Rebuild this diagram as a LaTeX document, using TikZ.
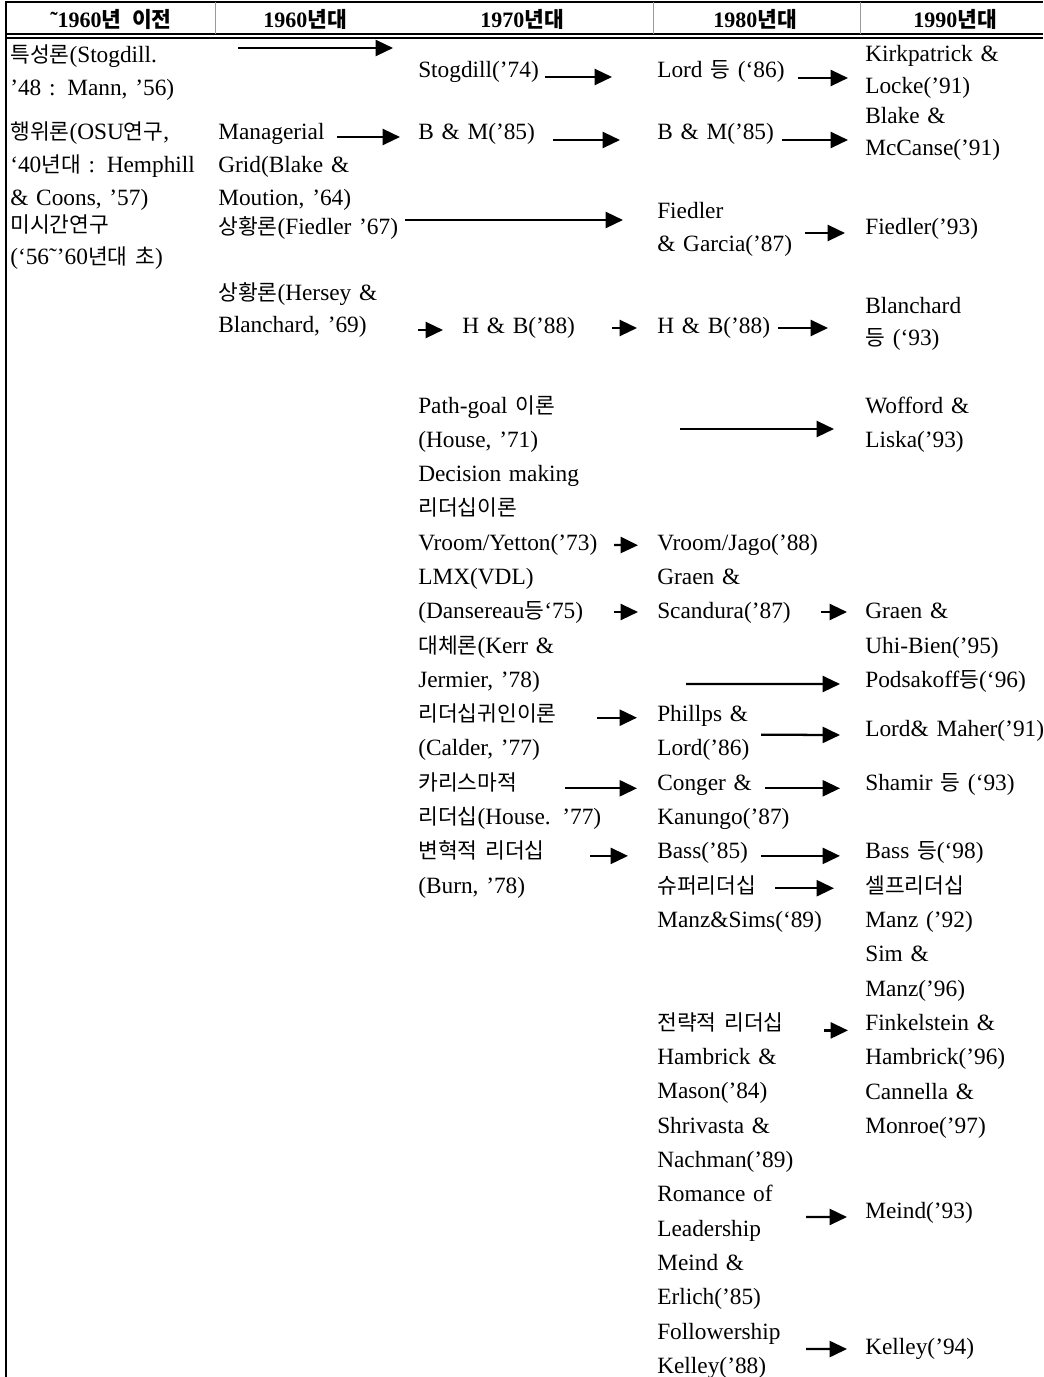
\documentclass[tikz,border=0pt]{standalone}
\usepackage{fontspec}
\setmainfont{Liberation Serif}
\newfontfamily\krfont[Scale=0.92]{Noto Sans CJK KR}
\newcommand{\hg}[1]{{\krfont #1}}
\newcommand{\hgbig}[1]{{\krfont\fontsize{17.5pt}{20pt}\selectfont #1}}
\usepackage{tikz}
\usetikzlibrary{arrows.meta, calc}

\begin{document}
\begin{tikzpicture}[
    x=0.75pt, y=-0.75pt,
    cell/.style={anchor=base west, align=left, inner sep=0pt, text width=150pt, font=\fontsize{17.5pt}{25.7pt}\selectfont},
    tight/.style={font=\fontsize{17.5pt}{24.5pt}\selectfont},
    tighter/.style={font=\fontsize{17.5pt}{23.3pt}\selectfont},
    head/.style={anchor=base, inner sep=0pt, font=\fontsize{16.5pt}{20pt}\selectfont\bfseries},
    rule/.style={line width=1.5pt},
    thinrule/.style={line width=0.8pt},
    sep/.style={line width=0.5pt, black!40},
    arrow/.style={-{Triangle[length=13pt, width=12pt]}, line width=1.7pt}
]
\useasboundingbox (0,0) rectangle (1043,1377);

% Table frame
\draw[rule] (1043,2) -- (6,2) -- (6,1377);
\draw[thinrule] (6,34) -- (1043,34);
\draw[thinrule] (6,38) -- (1043,38);
\draw[sep] (215,2) -- (215,34);
\draw[sep] (653,2) -- (653,34);
\draw[sep] (860,2) -- (860,34);

% Header
\node[head] (h0) at (111,28) {˜1960\hgbig{년\hspace{8pt}이전}};
\node[head] (h1) at (305,28) {1960\hgbig{년대}};
\node[head] (h2) at (522,28) {1970\hgbig{년대}};
\node[head] (h3) at (755,28) {1980\hgbig{년대}};
\node[head] (h4) at (955,28) {1990\hgbig{년대}};

% Before 1960
\node[cell, tight] (c1a) at (10,63) {\hg{특성론}(Stogdill.\\’48 : Mann, ’56)};
\node[cell, tight] (c1b) at (10,140) {\hg{행위론}(OSU\hg{연구},\\‘40\hg{년대} : Hemphill\\\& Coons, ’57)};
\node[cell, tight] (c1c) at (10,232) {\hg{미시간연구}\\(‘56˜’60\hg{년대 초})};

% 1960s
\node[cell, tight] (c2a) at (218,140) {Managerial\\Grid(Blake \&\\Moution, ’64)};
\node[cell] (c2b) at (218,234) {\hg{상황론}(Fiedler ’67)};
\node[cell, tight] (c2c) at (218,300) {\hg{상황론}(Hersey \&\\Blanchard, ’69)};

% 1970s
\node[cell] (c3a) at (418,78) {Stogdill(’74)};
\node[cell] (c3b) at (418,140) {B \& M(’85)};
\node[cell] (c3c) at (462,333) {H \& B(’88)};
\node[cell] (c3d) at (418,413) {Path-goal \hg{이론}\\(House, ’71)\\Decision making\\\hg{리더십이론}\\Vroom/Yetton(’73)};
\node[cell] (c3e) at (418,584.5) {LMX(VDL)\\(Dansereau\hg{등}‘75)};
\node[cell] (c3f) at (418,653.1) {\hg{대체론}(Kerr \&\\Jermier, ’78)};
\node[cell] (c3g) at (418,721.7) {\hg{리더십귀인이론}\\(Calder, ’77)};
\node[cell] (c3h) at (418,790.3) {\hg{카리스마적}\\\hg{리더십}(House. ’77)};
\node[cell] (c3i) at (418,858.9) {\hg{변혁적 리더십}\\(Burn, ’78)};

% 1980s
\node[cell] (c4a) at (657,78) {Lord \hg{등} (‘86)};
\node[cell] (c4b) at (657,140) {B \& M(’85)};
\node[cell, tight] (c4c) at (657,219) {Fiedler\\\& Garcia(’87)};
\node[cell] (c4d) at (657,333) {H \& B(’88)};
\node[cell] (c4e) at (657,550.2) {Vroom/Jago(’88)};
\node[cell] (c4f) at (657,584.5) {Graen \&\\Scandura(’87)};
\node[cell] (c4g) at (657,721.7) {Phillps \&\\Lord(’86)};
\node[cell] (c4h) at (657,790.3) {Conger \&\\Kanungo(’87)};
\node[cell] (c4i) at (657,858.9) {Bass(’85)};
\node[cell] (c4j) at (657,893.2) {\hg{슈퍼리더십}\\Manz\&Sims(‘89)};
\node[cell] (c4k) at (657,1030.4) {\hg{전략적 리더십}\\Hambrick \&\\Mason(’84)\\Shrivasta \&\\Nachman(’89)};
\node[cell] (c4l) at (657,1201.9) {Romance of\\Leadership};
\node[cell] (c4m) at (657,1270.5) {Meind \&\\Erlich(’85)};
\node[cell] (c4n) at (657,1339.1) {Followership\\Kelley(’88)};

% 1990s
\node[cell, tighter] (c5a) at (865,62) {Kirkpatrick \&\\Locke(’91)};
\node[cell, tighter] (c5b) at (865,124) {Blake \&\\McCanse(’91)};
\node[cell] (c5c) at (865,234) {Fiedler(’93)};
\node[cell, tight] (c5d) at (865,313) {Blanchard\\\hg{등} (‘93)};
\node[cell] (c5e) at (865,413) {Wofford \&\\Liska(’93)};
\node[cell] (c5f) at (865,618.8) {Graen \&\\Uhi-Bien(’95)};
\node[cell] (c5g) at (865,687.4) {Podsakoff\hg{등}(‘96)};
\node[cell] (c5h) at (865,736) {Lord\& Maher(’91)};
\node[cell] (c5i) at (865,790.3) {Shamir \hg{등} (‘93)};
\node[cell] (c5j) at (865,858.9) {Bass \hg{등}(‘98)};
\node[cell] (c5k) at (865,893.2) {\hg{셀프리더십}\\Manz (’92)\\Sim \&\\Manz(’96)};
\node[cell] (c5l) at (865,1030.4) {Finkelstein \&\\Hambrick(’96)};
\node[cell] (c5m) at (865,1099) {Cannella \&\\Monroe(’97)};
\node[cell] (c5n) at (865,1218) {Meind(’93)};
\node[cell] (c5o) at (865,1354) {Kelley(’94)};

% Arrows
\draw[arrow] ($(c1a.base west)+(228,-15)$) -- ($(c3a.base west)+(-25,-30)$);
\draw[arrow] ($(c3a.base west)+(127,-1)$) -- ($(c4a.base west)+(-45,-1)$);
\draw[arrow] ($(c4a.base west)+(141,0)$) -- ($(c5a.base west)+(-17,16)$);
\draw[arrow] ($(c2a.base west)+(119,-3)$) -- ($(c3b.base west)+(-18,-3)$);
\draw[arrow] ($(c3b.base west)+(135,0)$) -- ($(c4b.base west)+(-37,0)$);
\draw[arrow] ($(c4b.base west)+(125,0)$) -- ($(c5b.base west)+(-17,16)$);
\draw[arrow] ($(c2b.base west)+(187,-14)$) -- ($(c4c.base west)+(-34,1)$);
\draw[arrow] ($(c4c.base west)+(148,14)$) -- ($(c5c.base west)+(-20,-1)$);
\draw[arrow] ($(c2c.base west)+(200,30)$) -- ($(c3c.base west)+(-19,-3)$);
\draw[arrow] ($(c3c.base west)+(150,-5)$) -- ($(c4d.base west)+(-20,-5)$);
\draw[arrow] ($(c4d.base west)+(121,-5)$) -- ($(c5d.base west)+(-37,15)$);
\draw[arrow] ($(c3d.base west)+(262,16)$) -- ($(c5e.base west)+(-31,16)$);
\draw[arrow] ($(c3d.base west)+(196,132)$) -- ($(c4e.base west)+(-19,-5)$);
\draw[arrow] ($(c3e.base west)+(196,27.5)$) -- ($(c4f.base west)+(-19,27.5)$);
\draw[arrow] ($(c4f.base west)+(164,27.5)$) -- ($(c5f.base west)+(-18,-6.8)$);
\draw[arrow] ($(c3f.base west)+(268,31)$) -- ($(c5g.base west)+(-25,-3.4)$);
\draw[arrow] ($(c3g.base west)+(179,-4)$) -- ($(c4g.base west)+(-20,-4)$);
\draw[arrow] ($(c4g.base west)+(104,13)$) -- ($(c5h.base west)+(-25,-1)$);
\draw[arrow] ($(c3h.base west)+(147,-2)$) -- ($(c4h.base west)+(-20,-2)$);
\draw[arrow] ($(c4h.base west)+(108,-2)$) -- ($(c5i.base west)+(-25,-2)$);
\draw[arrow] ($(c3i.base west)+(172,-3)$) -- ($(c4i.base west)+(-29,-3)$);
\draw[arrow] ($(c4i.base west)+(104,-3)$) -- ($(c5j.base west)+(-25,-3)$);
\draw[arrow] ($(c4j.base west)+(118,-5)$) -- ($(c5k.base west)+(-31,-5)$);
\draw[arrow] ($(c4k.base west)+(167,0)$) -- ($(c5l.base west)+(-17,0)$);
\draw[arrow] ($(c4l.base west)+(149,15)$) -- ($(c5n.base west)+(-18,-1)$);
\draw[arrow] ($(c4n.base west)+(149,10)$) -- ($(c5o.base west)+(-18,-5)$);

\end{tikzpicture}
\end{document}
